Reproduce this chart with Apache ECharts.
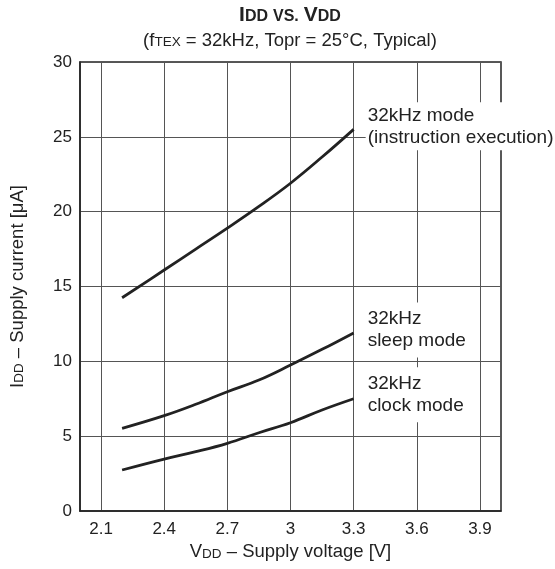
<!DOCTYPE html>
<html><head><meta charset="utf-8">
<script src="https://cdn.jsdelivr.net/npm/echarts@6/dist/echarts.min.js"></script>
<style>html,body{margin:0;padding:0;background:#fff}#c{width:555px;height:569px}</style>
</head><body><div id="c"></div>
<script>
const xTicks = [2.1, 2.4, 2.7, 3.0, 3.3, 3.6, 3.9];
const vdd = [2.2, 2.4, 2.55, 2.7, 2.85, 3.0, 3.15, 3.3];
const iddExec = [14.25, 16.1, 17.5, 18.9, 20.35, 21.9, 23.65, 25.5];
const iddSleep = [5.52, 6.37, 7.13, 7.97, 8.75, 9.75, 10.8, 11.9];
const iddClock = [2.74, 3.47, 3.96, 4.52, 5.23, 5.9, 6.75, 7.5];
const seriesNames = ['32kHz mode\n(instruction execution)', '32kHz\nsleep mode', '32kHz\nclock mode'];

const FONT = "'Liberation Sans', Arial, Helvetica, sans-serif";
const INK = '#222';
const pairs = ys => vdd.map((v, i) => [v, ys[i]]);

const chart = echarts.init(document.getElementById('c'), null, {renderer: 'canvas'});
function mkSeries(name, ys, lbl) {
  return {
    type: 'line', name: name, data: pairs(ys), smooth: 0.4, symbol: 'none',
    lineStyle: {color: INK, width: 2.8}, z: 3,
    endLabel: Object.assign({
      show: true, formatter: name, color: INK, fontFamily: FONT, fontSize: 19,
      lineHeight: 22, align: 'left', verticalAlign: 'middle', backgroundColor: '#fff'
    }, lbl)
  };
}
const big = (sz, w) => ({fontFamily: FONT, fontSize: sz, fontWeight: w || 'normal', color: INK, verticalAlign: 'bottom'});
const small = (sz, w) => ({fontFamily: FONT, fontSize: sz, fontWeight: w || 'normal', color: INK, verticalAlign: 'bottom', padding: [0, 0, 1, 0]});
chart.setOption({
  animation: false,
  textStyle: {fontFamily: FONT, color: INK},
  title: [{
    text: '{a|I}{b|DD} {b|VS.} {a|V}{b|DD}', left: 290, top: 5, textAlign: 'center', padding: 0,
    textStyle: {rich: {a: big(21, 'bold'), b: small(16, 'bold')}}
  }, {
    text: '{n|(f}{s|TEX}{n| = 32kHz, Topr = 25°C, Typical)}', left: 290, top: 31, textAlign: 'center', padding: 0,
    textStyle: {fontWeight: 'normal', rich: {n: big(18.5), s: small(13.5)}}
  }],
  grid: {left: 78, right: 54, top: 62, bottom: 58, show: true, borderColor: INK, borderWidth: 1.5, backgroundColor: 'transparent'},
  xAxis: {
    type: 'value', min: 2.0, max: 4.0,
    name: '{a|V}{b|DD}{a| – Supply voltage [V]}', nameLocation: 'middle', nameGap: 30,
    nameTextStyle: {rich: {a: big(18.5), b: small(13.5)}},
    axisLine: {show: true, onZero: false, lineStyle: {color: INK, width: 1.5}},
    axisTick: {show: false, customValues: xTicks},
    axisLabel: {customValues: xTicks, color: INK, fontFamily: FONT, fontSize: 17, margin: 10,
      formatter: v => String(Math.round(v * 10) / 10)},
    splitLine: {show: true, lineStyle: {color: '#555', width: 1}}
  },
  yAxis: {
    type: 'value', min: 0, max: 30, interval: 5,
    name: '{a|I}{b|DD}{a| – Supply current [μA]}', nameLocation: 'middle', nameGap: 53, nameRotate: 90,
    nameTextStyle: {rich: {a: big(18.5), b: small(13.5)}},
    axisLine: {show: true, lineStyle: {color: INK, width: 1.5}},
    axisTick: {show: false},
    axisLabel: {color: INK, fontFamily: FONT, fontSize: 17, margin: 8},
    splitLine: {show: true, lineStyle: {color: '#555', width: 1}}
  },
  series: [
    mkSeries(seriesNames[0], iddExec, {distance: 12, offset: [0, -3], padding: [1, 12, 3, 2]}),
    mkSeries(seriesNames[1], iddSleep, {distance: 8, offset: [0, -3], padding: [7, 4, 4, 6]}),
    mkSeries(seriesNames[2], iddClock, {distance: 8, offset: [0, -4], padding: [9, 4, 2, 6]})
  ]
});
</script></body></html>
